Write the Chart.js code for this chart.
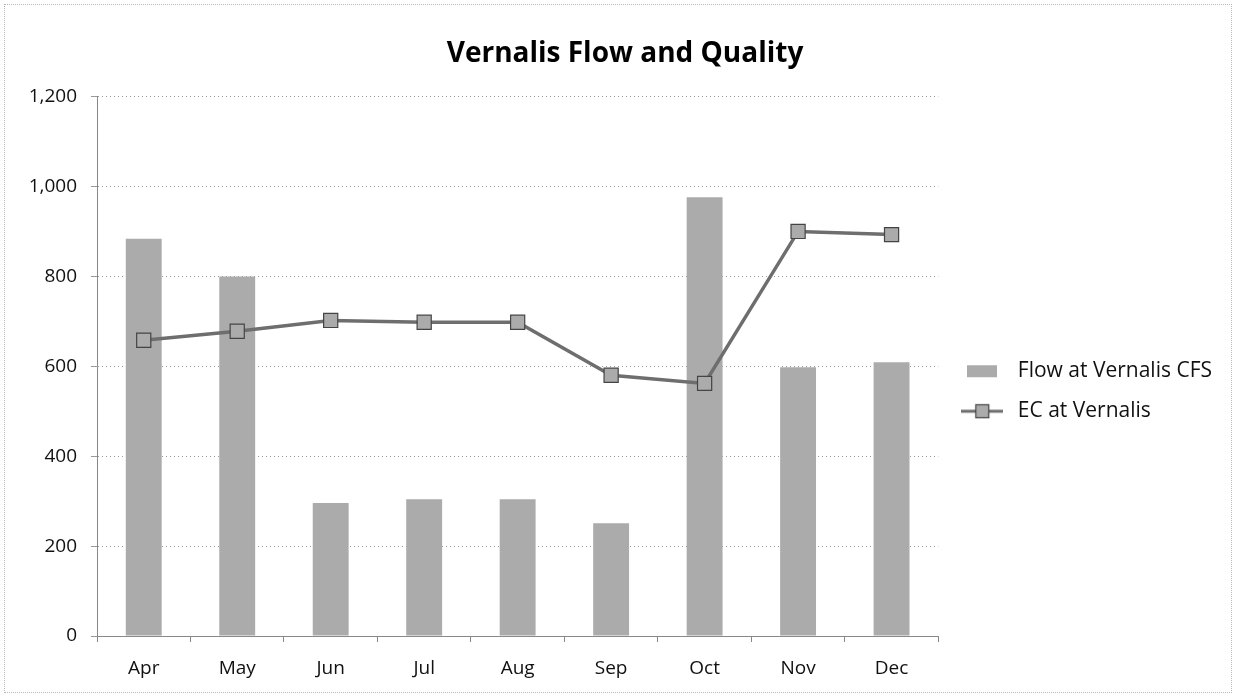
<!DOCTYPE html>
<html>
<head>
<meta charset="utf-8">
<script src="https://cdn.jsdelivr.net/npm/chart.js@4/dist/chart.umd.min.js"></script>
<style>
    html, body { margin: 0; padding: 0; background: #fff; }
    #wrap { position: absolute; left: 4px; top: 4px; width: 1226px; height: 687px;
            border: 1px dotted #b8b8b8; }
    canvas { display: block; }
</style>
</head>
<body>
<div id="wrap"><canvas id="myChart" width="1226" height="687"></canvas></div>
<script>
const months = ['Apr', 'May', 'Jun', 'Jul', 'Aug', 'Sep', 'Oct', 'Nov', 'Dec'];
const flowCFS = [884, 800, 296, 304, 304, 251, 976, 598, 609];
const ecVernalis = [658, 678, 702, 698, 698, 580, 562, 900, 893];
const yTicks = [0, 200, 400, 600, 800, 1000, 1200];

const FONT = '"Open Sans", "DejaVu Sans", sans-serif';
const barColor = '#ababab';
const lineColor = '#6e6e6e';

// small legend swatches
function swatch(w, h, draw) {
    var c = document.createElement('canvas');
    c.width = w; c.height = h;
    draw(c.getContext('2d'));
    return c;
}
var flowSwatch = swatch(30, 14, function (g) {
    g.fillStyle = barColor;
    g.fillRect(0, 1, 30, 12);
});
var ecSwatch = swatch(42, 16, function (g) {
    g.strokeStyle = lineColor;
    g.lineWidth = 3;
    g.beginPath(); g.moveTo(0, 8); g.lineTo(42, 8); g.stroke();
    g.fillStyle = barColor;
    g.fillRect(14, 1, 14, 14);
    g.strokeStyle = '#444';
    g.lineWidth = 1.2;
    g.strokeRect(14.5, 1.5, 13, 13);
});

var ctx = document.getElementById('myChart');
new Chart(ctx, {
    data: {
        labels: months,
        datasets: [{
            type: 'line',
            label: 'EC at Vernalis',
            data: ecVernalis,
            order: 0,
            borderColor: lineColor,
            borderWidth: 3.5,
            lineTension: 0,
            pointStyle: 'rect',
            pointRadius: 10,
            pointBackgroundColor: barColor,
            pointBorderColor: '#444',
            pointBorderWidth: 1.2
        }, {
            type: 'bar',
            label: 'Flow at Vernalis CFS',
            data: flowCFS,
            order: 1,
            backgroundColor: barColor,
            barPercentage: 0.6,
            categoryPercentage: 0.64
        }]
    },
    options: {
        responsive: false,
        animation: false,
        layout: { padding: { left: 23, right: 9, top: 10, bottom: 1 } },
        plugins: {
            title: {
                display: true,
                text: 'Vernalis Flow and Quality',
                color: '#000',
                font: { family: FONT, size: 28, weight: 'bold' },
                padding: { top: 22, bottom: 26 }
            },
            legend: {
                position: 'right',
                reverse: true,
                title: { display: true, text: '', padding: { top: 0, bottom: 62 } },
                labels: {
                    color: '#111',
                    font: { family: FONT, size: 21 },
                    usePointStyle: true,
                    pointStyleWidth: 50,
                    padding: 19,
                    generateLabels: function (chart) {
                        return [{
                            text: 'EC at Vernalis', pointStyle: ecSwatch,
                            fontColor: '#111', datasetIndex: 0, hidden: false, lineWidth: 0
                        }, {
                            text: 'Flow at Vernalis CFS', pointStyle: flowSwatch,
                            fontColor: '#111', datasetIndex: 1, hidden: false, lineWidth: 0
                        }];
                    }
                }
            },
            tooltip: { enabled: false }
        },
        scales: {
            x: {
                offset: true,
                afterFit: function (axis) { axis.height = 55; },
                grid: { offset: true, drawOnChartArea: false, tickLength: 6, color: '#888' },
                border: { color: '#888' },
                ticks: { color: '#111', font: { family: FONT, size: 19 }, padding: 15 }
            },
            y: {
                min: 0,
                max: 1200,
                afterBuildTicks: function (axis) {
                    axis.ticks = yTicks.map(function (v) { return { value: v }; });
                },
                afterFit: function (axis) { axis.width = 69; },
                grid: { color: '#999', tickLength: 6 },
                border: { color: '#888', dash: [1, 3] },
                ticks: {
                    color: '#111',
                    font: { family: FONT, size: 19 },
                    padding: 14,
                    callback: function (v) { return v.toLocaleString('en-US'); }
                }
            }
        }
    }
});
</script>
</body>
</html>
